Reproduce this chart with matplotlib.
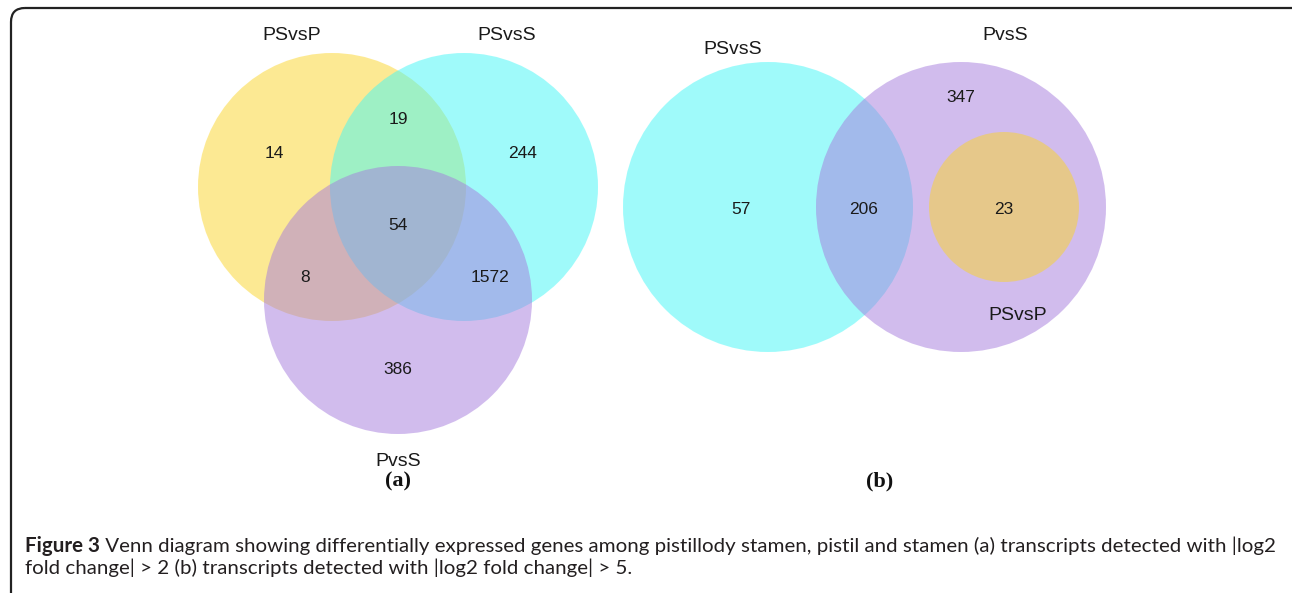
import matplotlib
matplotlib.use("Agg")
import matplotlib.pyplot as plt
from matplotlib.patches import Circle, FancyBboxPatch

# ---------------- data ----------------
# panel (a): three-set Venn, |log2 FC| > 2
sets_a = ["PSvsP", "PSvsS", "PvsS"]
regions_a = ["PSvsP only", "PSvsP&PSvsS", "PSvsS only", "all", "PSvsP&PvsS", "PSvsS&PvsS", "PvsS only"]
counts_a = [14, 19, 244, 54, 8, 1572, 386]

# panel (b): |log2 FC| > 5
sets_b = ["PSvsS", "PvsS", "PSvsP"]
regions_b = ["PSvsS only", "PSvsS&PvsS", "PvsS only", "PSvsP in PvsS"]
counts_b = [57, 206, 347, 23]

panel_tags = ["(a)", "(b)"]
caption_bold = "Figure 3"
caption_rest1 = (" Venn diagram showing differentially expressed genes among pistillody stamen, "
                 "pistil and stamen (a) transcripts detected with |log2")
caption_line2 = "fold change| > 2 (b) transcripts detected with |log2 fold change| > 5."

# ---------------- layout / style ----------------
W, H = 1292, 593
fig = plt.figure(figsize=(W / 100, H / 100), dpi=100)
ax = fig.add_axes([0, 0, 1, 1])
ax.set_xlim(0, W)
ax.set_ylim(H, 0)
ax.axis("off")

gold = (251 / 255, 213 / 255, 41 / 255)
cyan = (65 / 255, 247 / 255, 247 / 255)
purple = (165 / 255, 123 / 255, 221 / 255)
alpha = 0.5

# circle geometry (pixel layout)
circ_a = [((332, 187), 134, gold), ((464, 187), 134, cyan), ((398, 300), 134, purple)]
circ_b = [((768, 207), 145, cyan), ((961, 207), 145, purple), ((1004, 207), 75, gold)]
for (c, r, col) in circ_a + circ_b:
    ax.add_patch(Circle(c, r, facecolor=col, edgecolor="none", alpha=alpha))

num_pos_a = [(274, 154), (398, 120), (523, 154), (398, 226), (305, 278), (490, 278), (398, 369)]
num_pos_b = [(741, 209), (864, 209), (961, 98), (1004, 209)]
set_pos_a = [(292, 36), (507, 36), (398, 461)]
set_pos_b = [(733, 50), (1005, 35), (1018, 316)]

sans = ["Liberation Sans", "DejaVu Sans"]
for cnt, (x, y) in zip(counts_a, num_pos_a):
    ax.text(x, y, str(cnt), ha="center", va="center", fontsize=12.5, family=sans, color="#1a1a1a")
for cnt, (x, y) in zip(counts_b, num_pos_b):
    ax.text(x, y, str(cnt), ha="center", va="center", fontsize=12.5, family=sans, color="#1a1a1a")
for name, (x, y) in zip(sets_a, set_pos_a):
    ax.text(x, y, name, ha="center", va="center", fontsize=14, family=sans, color="#1a1a1a")
for name, (x, y) in zip(sets_b, set_pos_b):
    ax.text(x, y, name, ha="center", va="center", fontsize=14, family=sans, color="#1a1a1a")

for tag, x in zip(panel_tags, [398, 880]):
    ax.text(x, 481, tag, ha="center", va="center", fontsize=16, family=["Liberation Serif"],
            fontweight="bold", color="#111111")

# border
ax.add_patch(FancyBboxPatch((11, 8), W + 20, H + 20, boxstyle="round,pad=0,rounding_size=14",
                            facecolor="none", edgecolor="#222222", linewidth=1.6, clip_on=False))

# caption
cap_font = ["Lato", "DejaVu Sans"]
fs = 13
x0, x1 = 25, 1277
renderer = fig.canvas.get_renderer()
tb = ax.text(x0, 552, caption_bold, ha="left", va="baseline", fontsize=fs, family=cap_font,
             fontweight="bold", color="#231f20")
tr = ax.text(0, 552, caption_rest1, ha="left", va="baseline", fontsize=fs, family=cap_font,
             color="#231f20")
for _ in range(3):
    wb = tb.get_window_extent(renderer).width
    wr = tr.get_window_extent(renderer).width
    fs = fs * (x1 - x0) / (wb + wr)
    tb.set_fontsize(fs)
    tr.set_fontsize(fs)
wb = tb.get_window_extent(renderer).width
tr.set_x(x0 + wb)
ax.text(x0, 574, caption_line2, ha="left", va="baseline", fontsize=fs, family=cap_font, color="#231f20")

fig.savefig("out.png", dpi=100)
